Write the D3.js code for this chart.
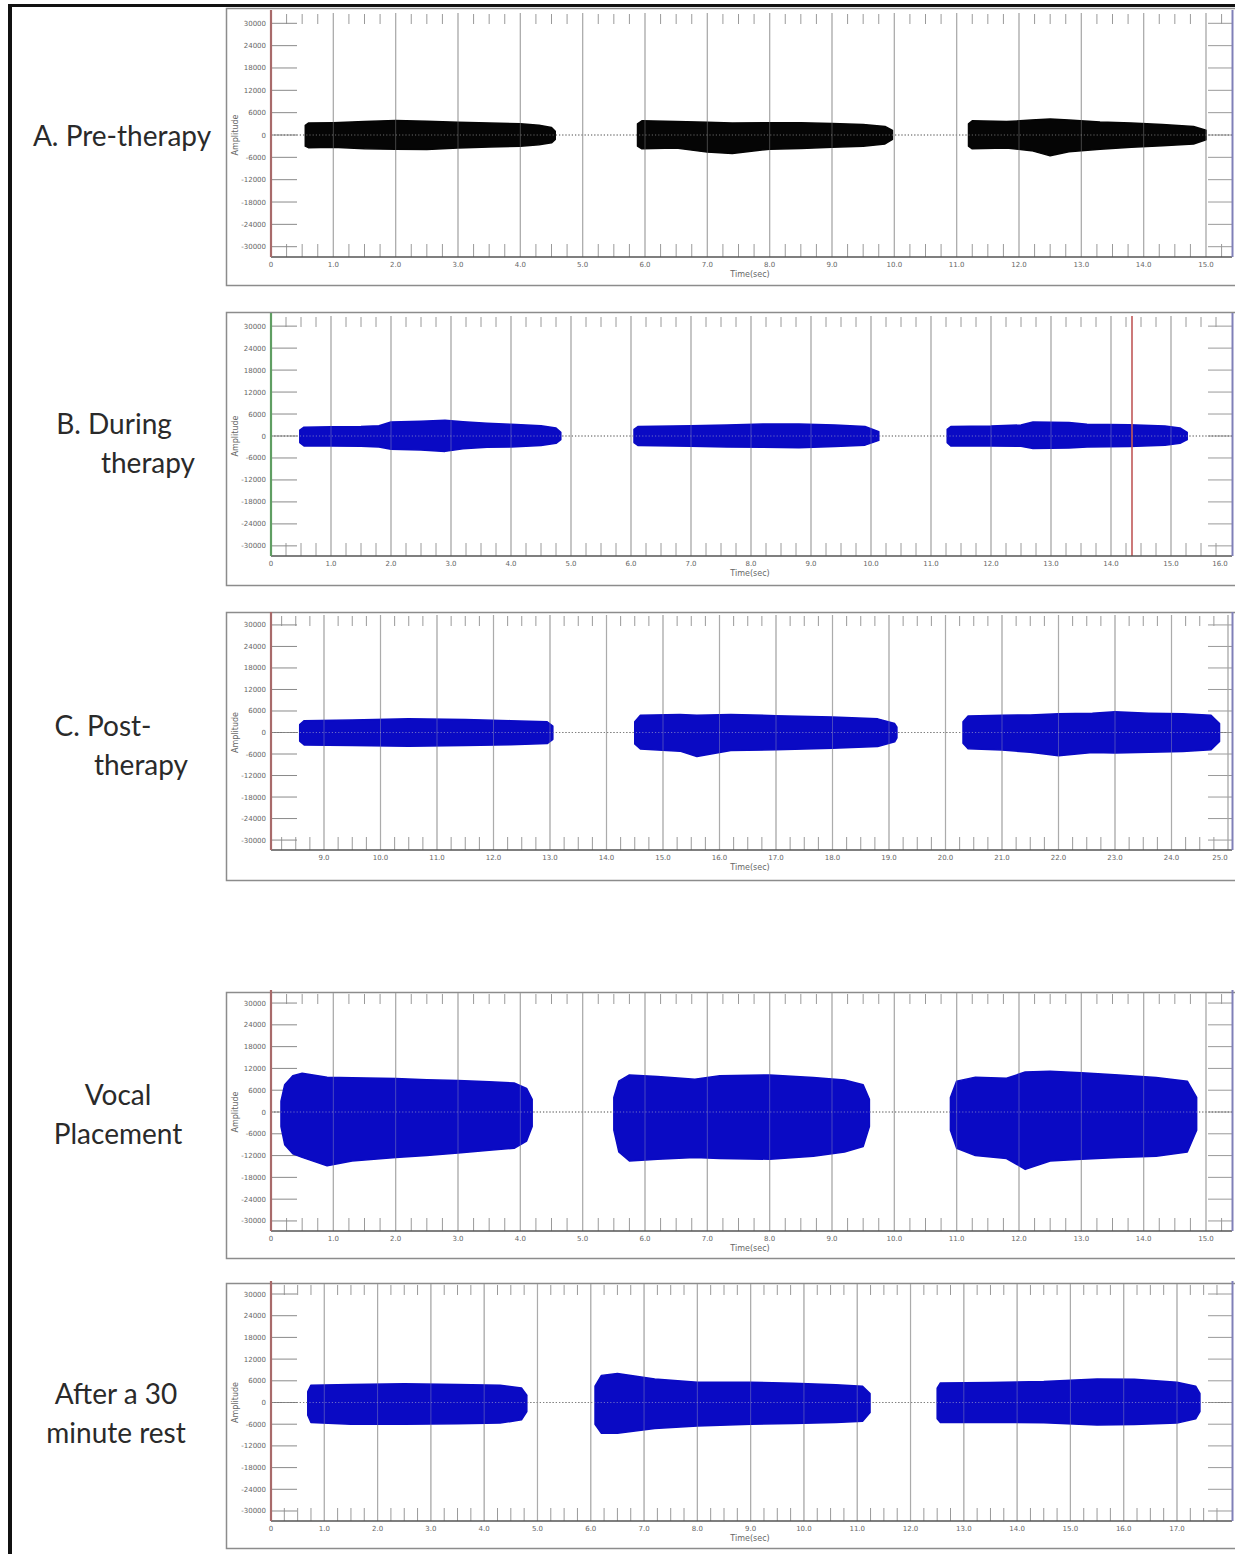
<!DOCTYPE html>
<html>
<head>
<meta charset="utf-8">
<script src="https://cdn.jsdelivr.net/npm/d3@7"></script>
<style>
  body { margin: 0; background: #fff; }
  .side { font-family: Lato, "Open Sans", sans-serif; font-size: 28px; fill: #2a2a2a; }
  .tk { font-family: "DejaVu Sans", sans-serif; font-size: 7px; fill: #666; }
</style>
</head>
<body>
<script>
// ---- data ----
const yTickLabels = [30000, 24000, 18000, 12000, 6000, 0, -6000, -12000, -18000, -24000, -30000];

const xTicksA = [0, 1, 2, 3, 4, 5, 6, 7, 8, 9, 10, 11, 12, 13, 14, 15];
const xTicksB = [0, 1, 2, 3, 4, 5, 6, 7, 8, 9, 10, 11, 12, 13, 14, 15, 16];
const xTicksC = [9, 10, 11, 12, 13, 14, 15, 16, 17, 18, 19, 20, 21, 22, 23, 24, 25];
const xTicksD = [0, 1, 2, 3, 4, 5, 6, 7, 8, 9, 10, 11, 12, 13, 14, 15];
const xTicksE = [0, 1, 2, 3, 4, 5, 6, 7, 8, 9, 10, 11, 12, 13, 14, 15, 16, 17];

// envelopes: [time(sec), upper amplitude, lower amplitude]
const preTherapy = [
  [[0.55, 2600, -3000], [0.6, 3200, -3400], [1.0, 3300, -3300], [1.5, 3600, -3700], [2.0, 3900, -3800], [2.5, 3700, -3900], [3.0, 3400, -3500], [3.5, 3200, -3200], [4.0, 3000, -3000], [4.3, 2600, -2600], [4.5, 2000, -2100], [4.56, 1000, -1200]],
  [[5.88, 3000, -3000], [5.95, 3800, -3700], [6.5, 3600, -3500], [7.0, 3400, -4600], [7.4, 3200, -5000], [8.0, 3300, -3800], [8.5, 3300, -3600], [9.0, 3100, -3300], [9.5, 2800, -3000], [9.85, 2300, -2400], [9.97, 1200, -1200]],
  [[11.19, 3000, -3000], [11.25, 3800, -3700], [11.8, 3600, -3500], [12.2, 4000, -4200], [12.5, 4300, -5600], [12.8, 4000, -4500], [13.3, 3500, -3800], [13.8, 3200, -3300], [14.3, 2800, -2900], [14.8, 2300, -2400], [15.0, 1300, -1300]]
];
const duringTherapy = [
  [[0.48, 1600, -1800], [0.55, 2400, -2700], [1.0, 2500, -2700], [1.5, 2600, -2800], [1.8, 2800, -3000], [2.0, 3800, -3600], [2.5, 4000, -3800], [2.9, 4300, -4200], [3.2, 3900, -3500], [3.6, 3500, -3100], [4.0, 3200, -3000], [4.5, 2800, -2600], [4.75, 2200, -2000], [4.83, 1000, -1000]],
  [[6.05, 1800, -1800], [6.12, 2600, -2600], [7.0, 2800, -2800], [7.6, 3000, -3000], [8.2, 3300, -3100], [8.8, 3300, -3200], [9.4, 3000, -2900], [9.9, 2600, -2500], [10.13, 1200, -1200]],
  [[11.27, 1800, -1800], [11.33, 2600, -2700], [12.0, 2700, -2700], [12.5, 3000, -2800], [12.7, 3800, -3400], [13.3, 3700, -3300], [13.6, 3200, -3000], [14.3, 3100, -2900], [14.9, 2700, -2500], [15.15, 2200, -2000], [15.27, 1000, -1000]]
];
const postTherapy = [
  [[8.57, 2200, -2400], [8.65, 3300, -3500], [9.5, 3500, -3600], [10.5, 3800, -3800], [11.5, 3600, -3600], [12.3, 3300, -3400], [12.95, 3000, -3100], [13.05, 1800, -1900]],
  [[14.5, 3000, -3200], [14.6, 4800, -4600], [15.3, 5000, -5200], [15.6, 4800, -6700], [16.2, 5000, -5000], [17.0, 4700, -4800], [18.0, 4300, -4400], [18.8, 3800, -3900], [19.1, 2500, -2600], [19.14, 1500, -1500]],
  [[20.31, 3000, -3000], [20.4, 4600, -4500], [21.0, 4800, -4900], [21.5, 4900, -5500], [22.0, 5200, -6500], [22.6, 5400, -5600], [23.0, 5800, -5700], [23.6, 5400, -5500], [24.2, 5200, -5300], [24.7, 4800, -4800], [24.85, 2500, -2500]]
];
const vocalPlacement = [
  [[0.16, 3000, -4000], [0.22, 7500, -9000], [0.35, 10000, -11500], [0.5, 10700, -12500], [0.9, 9600, -14800], [1.3, 9400, -13500], [2.0, 9200, -12500], [2.5, 8900, -12000], [3.0, 8700, -11300], [3.5, 8300, -10500], [3.9, 8000, -10000], [4.1, 6500, -8000], [4.19, 3500, -4000]],
  [[5.5, 4000, -5000], [5.58, 8500, -11000], [5.75, 10200, -13500], [6.2, 9800, -13000], [6.8, 9000, -12500], [7.2, 10000, -12800], [8.0, 10200, -13000], [8.7, 9500, -12200], [9.2, 8800, -11000], [9.5, 7500, -9500], [9.6, 3500, -4000]],
  [[10.9, 4000, -5000], [11.0, 8500, -10000], [11.3, 9600, -12000], [11.8, 9300, -12800], [12.1, 11000, -15800], [12.5, 11200, -13500], [13.0, 10800, -13000], [13.6, 10200, -12500], [14.2, 9500, -12200], [14.7, 8500, -11000], [14.85, 4000, -5000]]
];
const afterRest = [
  [[0.69, 3000, -3500], [0.75, 4800, -5500], [1.5, 5000, -6000], [2.5, 5200, -6000], [3.5, 5000, -5900], [4.3, 4800, -5700], [4.7, 4000, -4800], [4.8, 2000, -2500]],
  [[6.08, 4500, -6000], [6.2, 7500, -8500], [6.5, 8000, -8500], [7.2, 6500, -7200], [8.0, 5600, -6500], [9.0, 5600, -6000], [9.8, 5300, -5800], [10.6, 4900, -5500], [11.1, 4500, -5200], [11.24, 2500, -2800]],
  [[12.5, 4000, -4500], [12.56, 5400, -5500], [13.5, 5500, -5500], [14.5, 5800, -5600], [15.5, 6500, -6200], [16.2, 6400, -6100], [17.0, 5600, -5700], [17.35, 4500, -4500], [17.43, 2500, -2500]]
];
const cursorB = 14.35;

// ---- layout ----
const panels = [
  { label: ["A. Pre-therapy"], lx: [122], ly: [146], box: [8, 285], pt: 13, pb: 257, ticks: xTicksA, x0: 0, x1: 15, r0: 271, r1: 1206, data: preTherapy, color: "#050505", axis: "#a86a6a" },
  { label: ["B. During", "therapy"], lx: [114, 148], ly: [434, 473], box: [312, 585], pt: 316, pb: 556, ticks: xTicksB, x0: 0, x1: 16, r0: 271, r1: 1231, data: duringTherapy, color: "#0a0ac4", axis: "#5f9e62", cursor: cursorB },
  { label: ["C. Post-", "therapy"], lx: [103, 141], ly: [736, 775], box: [612, 880], pt: 615, pb: 850, ticks: xTicksC, x0: 9, x1: 25, r0: 324, r1: 1228, data: postTherapy, color: "#0a0ac4", axis: "#a86a6a" },
  { label: ["Vocal", "Placement"], lx: [118, 118], ly: [1105, 1144], box: [992, 1258], pt: 993, pb: 1231, ticks: xTicksD, x0: 0, x1: 15, r0: 271, r1: 1206, data: vocalPlacement, color: "#0a0ac4", axis: "#a86a6a" },
  { label: ["After a 30", "minute rest"], lx: [116, 116], ly: [1404, 1443], box: [1283, 1548], pt: 1284, pb: 1521, ticks: xTicksE, x0: 0, x1: 17, r0: 271, r1: 1177, data: afterRest, color: "#0a0ac4", axis: "#a86a6a" }
];

const svg = d3.select("body").append("svg")
  .attr("width", 1235)
  .attr("height", 1554);

// outer frame
svg.append("line").attr("x1", 8).attr("x2", 1235).attr("y1", 5.5).attr("y2", 5.5).attr("stroke", "#111").attr("stroke-width", 3);
svg.append("line").attr("x1", 10).attr("x2", 10).attr("y1", 4).attr("y2", 1554).attr("stroke", "#111").attr("stroke-width", 4);

const L = 271, R = 1232;
const fmt = d => d === 0 ? "0" : d.toFixed(1);

panels.forEach(p => {
  const g = svg.append("g");
  const x = d3.scaleLinear().domain([p.x0, p.x1]).range([p.r0, p.r1]);
  const y = d3.scaleLinear().domain([-32768, 32768]).range([p.pb, p.pt]);

  // side label
  p.label.forEach((t, i) => {
    svg.append("text").attr("class", "side")
      .attr("x", p.lx[i]).attr("y", p.ly[i])
      .attr("text-anchor", "middle")
      .text(t);
  });

  // panel box
  g.append("rect")
    .attr("x", 226.5).attr("y", p.box[0] + 0.5)
    .attr("width", 1010).attr("height", p.box[1] - p.box[0])
    .attr("fill", "#fff").attr("stroke", "#8c8c8c").attr("stroke-width", 1.5);

  const gridTicks = p.ticks.filter(d => x(d) > L + 2 && x(d) < R - 1);

  // vertical gridlines
  g.selectAll(".grid").data(gridTicks).enter()
    .append("line")
    .attr("x1", d => x(d)).attr("x2", d => x(d))
    .attr("y1", p.pt).attr("y2", p.pb)
    .attr("stroke", "#a4a4a4").attr("stroke-width", 1.2);

  // minor ticks (quarter seconds) top and bottom
  const minor = d3.range(Math.ceil(x.invert(L) * 4) / 4, x.invert(R), 0.25)
    .filter(d => Math.abs(d - Math.round(d)) > 0.01 && x(d) > L + 3);
  g.selectAll(".mt").data(minor).enter().append("line")
    .attr("x1", d => x(d)).attr("x2", d => x(d))
    .attr("y1", p.pt + 1).attr("y2", p.pt + 11)
    .attr("stroke", "#9a9a9a");
  g.selectAll(".mb").data(minor).enter().append("line")
    .attr("x1", d => x(d)).attr("x2", d => x(d))
    .attr("y1", p.pb - 13).attr("y2", p.pb)
    .attr("stroke", "#9a9a9a");

  // y ticks left and right
  g.selectAll(".yl").data(yTickLabels).enter().append("line")
    .attr("x1", L).attr("x2", L + 26)
    .attr("y1", d => y(d)).attr("y2", d => y(d))
    .attr("stroke", "#8a8a8a");
  g.selectAll(".yr").data(yTickLabels).enter().append("line")
    .attr("x1", R - 24).attr("x2", R)
    .attr("y1", d => y(d)).attr("y2", d => y(d))
    .attr("stroke", "#9a9a9a");
  g.selectAll(".ytx").data(yTickLabels).enter().append("text")
    .attr("class", "tk")
    .attr("x", L - 5).attr("y", d => y(d) + 2.5)
    .attr("text-anchor", "end")
    .text(d => d);

  g.append("text").attr("class", "tk")
    .attr("transform", `translate(238,${y(0)}) rotate(-90)`)
    .attr("text-anchor", "middle")
    .style("font-size", "8px")
    .text("Amplitude");

  // zero line (dotted)
  g.append("line")
    .attr("x1", L).attr("x2", R)
    .attr("y1", y(0)).attr("y2", y(0))
    .attr("stroke", "#333").attr("stroke-dasharray", "1.2,2");

  // waveform envelopes
  const area = d3.area()
    .x(d => x(d[0]))
    .y0(d => y(d[2]))
    .y1(d => y(d[1]))
    .curve(d3.curveLinear);
  g.selectAll(".wave").data(p.data).enter().append("path")
    .attr("d", area)
    .attr("fill", p.color)
    .attr("stroke", p.color)
    .attr("stroke-width", 1.5)
    .attr("stroke-linejoin", "round");

  // faint grid + zero through the waveform
  g.selectAll(".grid2").data(gridTicks).enter()
    .append("line")
    .attr("x1", d => x(d)).attr("x2", d => x(d))
    .attr("y1", p.pt).attr("y2", p.pb)
    .attr("stroke", "#bbb").attr("stroke-opacity", 0.35);
  g.append("line")
    .attr("x1", L).attr("x2", R)
    .attr("y1", y(0)).attr("y2", y(0))
    .attr("stroke", "#ccc").attr("stroke-opacity", 0.5).attr("stroke-dasharray", "1.2,2");

  if (p.cursor !== undefined) {
    g.append("line")
      .attr("x1", x(p.cursor)).attr("x2", x(p.cursor))
      .attr("y1", p.pt).attr("y2", p.pb)
      .attr("stroke", "#c05858").attr("stroke-width", 1.6);
  }

  // axes
  g.append("line")
    .attr("x1", L).attr("x2", R)
    .attr("y1", p.pb).attr("y2", p.pb)
    .attr("stroke", "#555").attr("stroke-width", 1.5);
  g.append("line")
    .attr("x1", L).attr("x2", L)
    .attr("y1", p.pt - 3).attr("y2", p.pb)
    .attr("stroke", p.axis).attr("stroke-width", 2.2);
  g.append("line")
    .attr("x1", R + 0.5).attr("x2", R + 0.5)
    .attr("y1", p.pt - 3).attr("y2", p.pb)
    .attr("stroke", "#8080b8").attr("stroke-width", 2);

  // x tick labels
  g.selectAll(".xtx").data(p.ticks).enter().append("text")
    .attr("class", "tk")
    .attr("x", d => Math.min(x(d), 1220)).attr("y", p.pb + 10)
    .attr("text-anchor", "middle")
    .text(fmt);
  g.append("text").attr("class", "tk")
    .attr("x", 750).attr("y", p.pb + 20)
    .attr("text-anchor", "middle")
    .style("font-size", "8px")
    .text("Time(sec)");
});
</script>
</body>
</html>
